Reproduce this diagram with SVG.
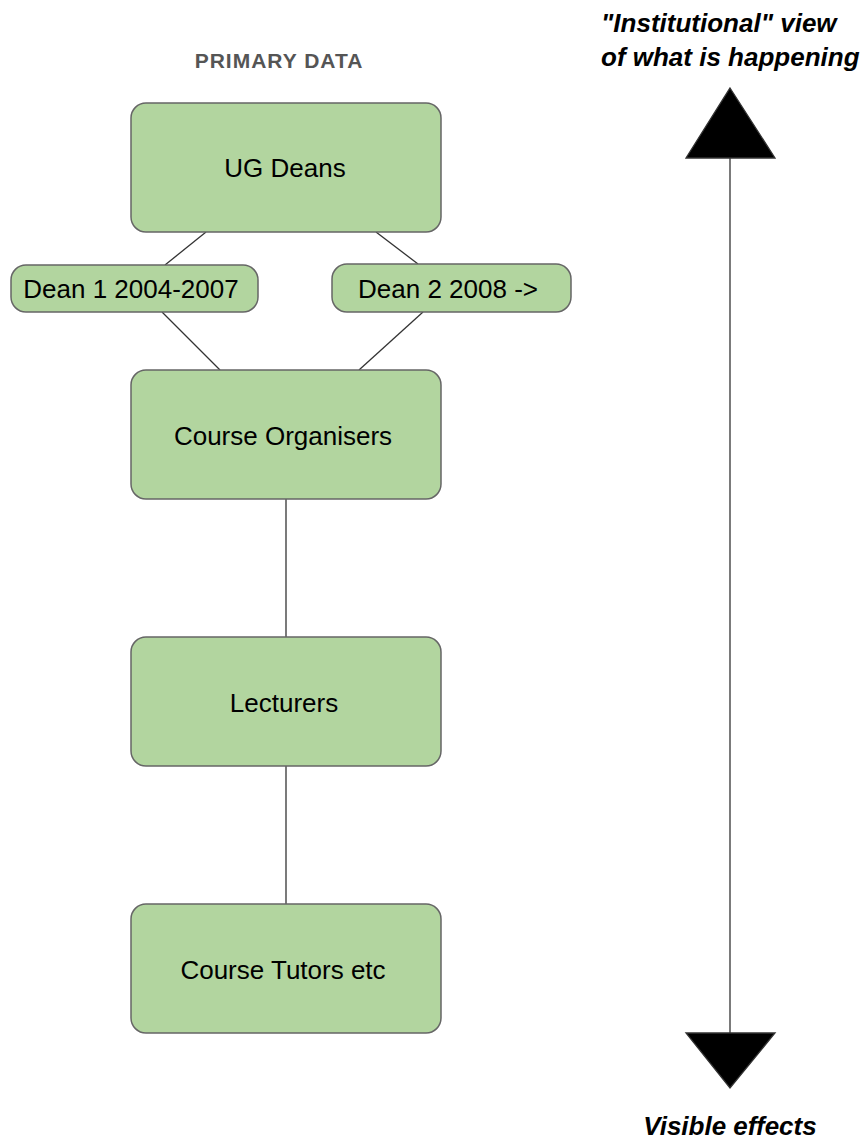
<svg xmlns="http://www.w3.org/2000/svg" width="868" height="1144" viewBox="0 0 868 1144">
<style>
.box{fill:#b2d59f;stroke:#666;stroke-width:1.5}
.lbl{font-family:"Liberation Sans",Arial,sans-serif;font-size:26px;fill:#000;text-anchor:middle}
.conn{stroke:#333;stroke-width:1.3;fill:none}
.head{fill:#000;stroke:#333;stroke-width:1.3}
.note{font-family:"Liberation Sans",Arial,sans-serif;font-size:26px;font-weight:bold;font-style:italic;fill:#000}
</style>
<rect width="868" height="1144" fill="#fff"/>
<text x="279" y="68" font-family="Liberation Sans, Arial, sans-serif" font-size="21" font-weight="bold" fill="#555" text-anchor="middle" letter-spacing="1">PRIMARY DATA</text>
<g id="connectors">
<line class="conn" x1="206" y1="232" x2="165" y2="265"/>
<line class="conn" x1="376" y1="232" x2="418" y2="264"/>
<line class="conn" x1="162" y1="312" x2="220" y2="370"/>
<line class="conn" x1="423" y1="312" x2="359" y2="370"/>
<line class="conn" x1="286" y1="499" x2="286" y2="637"/>
<line class="conn" x1="286" y1="766" x2="286" y2="904"/>
</g>
<g id="ug-deans">
<rect class="box" x="131" y="103" width="310" height="129" rx="15"/>
<text class="lbl" x="285" y="177">UG Deans</text>
</g>
<g id="dean1">
<rect class="box" x="11" y="265" width="247" height="47" rx="15"/>
<text class="lbl" x="131" y="298">Dean 1 2004-2007</text>
</g>
<g id="dean2">
<rect class="box" x="332" y="264" width="239" height="48" rx="15"/>
<text class="lbl" x="448" y="298">Dean 2 2008 -&gt;</text>
</g>
<g id="course-organisers">
<rect class="box" x="131" y="370" width="310" height="129" rx="15"/>
<text class="lbl" x="283" y="445">Course Organisers</text>
</g>
<g id="lecturers">
<rect class="box" x="131" y="637" width="310" height="129" rx="15"/>
<text class="lbl" x="284" y="712">Lecturers</text>
</g>
<g id="course-tutors">
<rect class="box" x="131" y="904" width="310" height="129" rx="15"/>
<text class="lbl" x="283" y="979">Course Tutors etc</text>
</g>
<g id="scale-arrow">
<line class="conn" x1="730" y1="158" x2="730" y2="1033"/>
<polygon class="head" points="730,88 775,158 686,158"/>
<polygon class="head" points="686,1033 775,1033 730,1088"/>
</g>
<g id="labels">
<text class="note" x="601" y="32">"Institutional" view</text>
<text class="note" x="601" y="66">of what is happening</text>
<text class="note" x="730" y="1135" text-anchor="middle">Visible effects</text>
</g>
</svg>
